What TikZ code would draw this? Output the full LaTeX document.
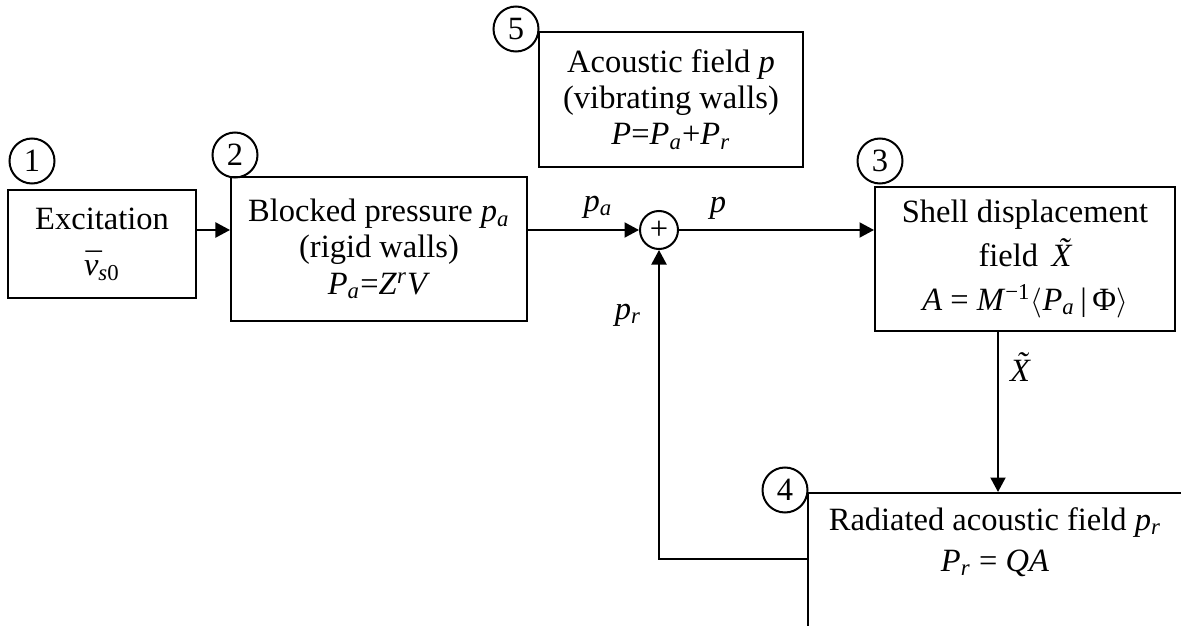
\documentclass[tikz,border=0pt]{standalone}
\usepackage{fontspec}
\setmainfont{Liberation Serif}
\usetikzlibrary{arrows.meta}
\newcommand{\iv}[1]{\textit{#1}}
\newcommand{\isub}[2]{\textit{#1}\textsubscript{\textit{#2}}}
\newcommand{\tildeX}{{\itshape\accent"02DC X}}
\newcommand{\barv}{{\itshape\accent"00AF v}}

\begin{document}
\begin{tikzpicture}[x=0.4pt,y=-0.4pt,
 font=\fontsize{13}{14.5}\selectfont,
 block/.style={draw,line width=0.8pt,align=center,inner sep=0pt},
 num/.style={draw,circle,line width=0.8pt,minimum size=18pt,inner sep=0pt},
 arr/.style={line width=0.8pt,-{Triangle[length=5.8pt,width=6pt]}}]
 \useasboundingbox (0,0) rectangle (1181,626);
 \clip (0,0) rectangle (1181,626);
 % blocks
 \node[block,minimum width=75.2pt,minimum height=43.2pt] (exc) at (102,244)
  {Excitation\\[4pt]\barv\textsubscript{\iv{s}0}};
 \node[block,minimum width=118.4pt,minimum height=57.6pt] (blk) at (379,249)
  {Blocked pressure \isub{p}{a}\\(rigid walls)\\\isub{P}{a}=\iv{Z}\textsuperscript{\iv{r}}\iv{V}};
 \node[block,minimum width=105.6pt,minimum height=54pt] (acf) at (671,99.5)
  {Acoustic field \iv{p}\\(vibrating walls)\\\iv{P}=\isub{P}{a}+\isub{P}{r}};
 \node[block,minimum width=120pt,minimum height=57.6pt] (shell) at (1025,259)
  {Shell displacement\\[3pt]field \,\tildeX\\[3pt]\iv{A} = \iv{M}\textsuperscript{−1}$\langle$\isub{P}{a}\,|\,Φ$\rangle$};
 \node[block,minimum width=152pt,minimum height=68pt,anchor=north west] (rad) at (807,492) {};
 \node[align=center] (radtxt) at (995,542)
  {Radiated acoustic field \isub{p}{r}\\[2pt]\isub{P}{r} = \iv{QA}};
 \node[draw,circle,line width=0.8pt,minimum size=15.2pt,inner sep=0pt] (sum) at (659,230) {+};
 % numbers
 \node[num] (n1) at (32,161) {1};
 \node[num] (n2) at (235,155) {2};
 \node[num] (n3) at (880,161) {3};
 \node[num] (n4) at (785,490) {4};
 \node[num] (n5) at (516,29) {5};
 % connectors
 \draw[arr] (exc.east |- sum) -- (blk.west |- sum);
 \draw[arr] (blk.east |- sum) -- (sum.west);
 \draw[arr] (sum.east) -- (shell.west |- sum);
 \draw[arr] (shell.south -| rad.north) -- (rad.north);
 \draw[arr] ([yshift=7.6pt]rad.west) -| (sum.south);
 % labels
 \node (lpa) at (598,207) {\isub{p}{a}};
 \node (lp) at (718,208) {\iv{p}};
 \node (lpr) at (628,315) {\isub{p}{r}};
 \node (lx) at (1020,367) {\tildeX};
\end{tikzpicture}
\end{document}
